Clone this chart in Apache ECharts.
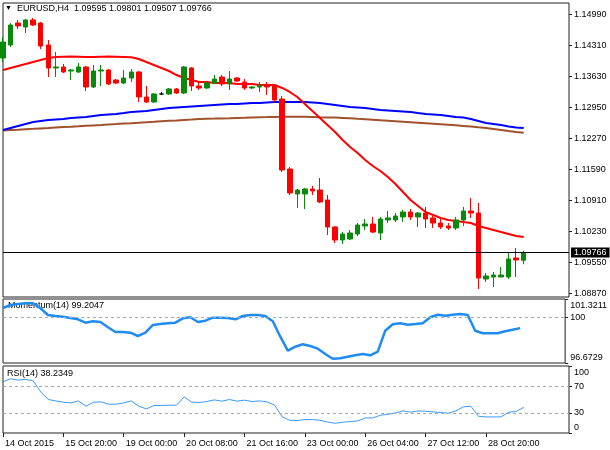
<!DOCTYPE html>
<html>
<head>
<meta charset="utf-8">
<title>EURUSD H4</title>
<script src="https://cdn.jsdelivr.net/npm/echarts@6/dist/echarts.min.js"></script>
<style>
  html, body { margin: 0; padding: 0; background: #fff; }
  #chart { width: 610px; height: 450px; }
</style>
</head>
<body>
<div id="chart"></div>
<script>
const symbolName = 'EURUSD,H4';

// one label every 8 bars
const tickLabels = ['14 Oct 2015', '15 Oct 20:00', '19 Oct 00:00', '20 Oct 08:00', '21 Oct 16:00',
  '23 Oct 00:00', '26 Oct 04:00', '27 Oct 12:00', '28 Oct 20:00'];

// H4 bars: [open, close, low, high]
const candles = [
  [1.14039, 1.14390, 1.13951, 1.14500], [1.14324, 1.14764, 1.14280, 1.14808],
  [1.14808, 1.14742, 1.14676, 1.14874], [1.14720, 1.14874, 1.14588, 1.14896],
  [1.14874, 1.14764, 1.14742, 1.14918], [1.14808, 1.14302, 1.14236, 1.14830],
  [1.14324, 1.13819, 1.13621, 1.14434], [1.13819, 1.13841, 1.13621, 1.14171],
  [1.13841, 1.13731, 1.13709, 1.13907], [1.13753, 1.13775, 1.13555, 1.13797],
  [1.13731, 1.13841, 1.13709, 1.13929], [1.13841, 1.13402, 1.13314, 1.13863],
  [1.13402, 1.13753, 1.13380, 1.13885], [1.13753, 1.13775, 1.13424, 1.13885],
  [1.13775, 1.13468, 1.13446, 1.13797], [1.13555, 1.13489, 1.13468, 1.13577],
  [1.13489, 1.13599, 1.13468, 1.13775], [1.13599, 1.13731, 1.13511, 1.13797],
  [1.13731, 1.13182, 1.13072, 1.13753], [1.13182, 1.13072, 1.13050, 1.13424],
  [1.13072, 1.13248, 1.13050, 1.13270], [1.13248, 1.13248, 1.13226, 1.13292],
  [1.13248, 1.13358, 1.13226, 1.13380], [1.13358, 1.13270, 1.13248, 1.13380],
  [1.13270, 1.13841, 1.13248, 1.13863], [1.13819, 1.13424, 1.13314, 1.13841],
  [1.13424, 1.13380, 1.13336, 1.13511], [1.13380, 1.13489, 1.13358, 1.13511],
  [1.13489, 1.13577, 1.13468, 1.13665], [1.13621, 1.13468, 1.13424, 1.13665],
  [1.13468, 1.13577, 1.13336, 1.13753], [1.13599, 1.13533, 1.13511, 1.13621],
  [1.13511, 1.13380, 1.13336, 1.13577], [1.13380, 1.13402, 1.13358, 1.13424],
  [1.13402, 1.13446, 1.13292, 1.13511], [1.13446, 1.13402, 1.13226, 1.13511],
  [1.13424, 1.13116, 1.13072, 1.13468], [1.13138, 1.11578, 1.11534, 1.13204],
  [1.11600, 1.11073, 1.11029, 1.11644], [1.11051, 1.11139, 1.10743, 1.11161],
  [1.11051, 1.11161, 1.10721, 1.11183], [1.11161, 1.11117, 1.11029, 1.11227],
  [1.11139, 1.10875, 1.10853, 1.11402], [1.10919, 1.10326, 1.10150, 1.11029],
  [1.10326, 1.10040, 1.09974, 1.10348], [1.10040, 1.10172, 1.09952, 1.10216],
  [1.10062, 1.10194, 1.10040, 1.10260], [1.10172, 1.10370, 1.10128, 1.10414],
  [1.10348, 1.10392, 1.10260, 1.10502], [1.10392, 1.10216, 1.10194, 1.10546],
  [1.10194, 1.10502, 1.10040, 1.10546], [1.10480, 1.10524, 1.10414, 1.10677],
  [1.10480, 1.10567, 1.10436, 1.10633], [1.10546, 1.10655, 1.10436, 1.10699],
  [1.10655, 1.10546, 1.10480, 1.10721], [1.10546, 1.10633, 1.10326, 1.10655],
  [1.10633, 1.10502, 1.10304, 1.10765], [1.10524, 1.10414, 1.10304, 1.10567],
  [1.10414, 1.10326, 1.10282, 1.10502], [1.10348, 1.10304, 1.10260, 1.10414],
  [1.10304, 1.10480, 1.10260, 1.10546], [1.10480, 1.10677, 1.10348, 1.10765],
  [1.10677, 1.10633, 1.10524, 1.10963], [1.10633, 1.09205, 1.08964, 1.10853],
  [1.09183, 1.09249, 1.09117, 1.09315], [1.09227, 1.09271, 1.09008, 1.09337],
  [1.09227, 1.09271, 1.09227, 1.09447], [1.09227, 1.09623, 1.09183, 1.09755],
  [1.09645, 1.09601, 1.09227, 1.09864], [1.09595, 1.09766, 1.09507, 1.09801]
];

// moving averages (red / blue / brown)
const maRed = [
  1.13775, 1.13819, 1.13863, 1.13907, 1.13951, 1.13995, 1.14039, 1.14061, 1.14068, 1.14072,
  1.14068, 1.14063, 1.14061, 1.14066, 1.14070, 1.14066, 1.14061, 1.14056, 1.14017, 1.13951,
  1.13885, 1.13819, 1.13753, 1.13665, 1.13599, 1.13555, 1.13511, 1.13511, 1.13489, 1.13489,
  1.13489, 1.13468, 1.13468, 1.13468, 1.13446, 1.13446, 1.13446, 1.13380, 1.13292, 1.13182,
  1.13028, 1.12874, 1.12721, 1.12567, 1.12413, 1.12237, 1.12083, 1.11952, 1.11798, 1.11666,
  1.11556, 1.11424, 1.11271, 1.11095, 1.10919, 1.10787, 1.10655, 1.10589, 1.10524, 1.10480,
  1.10458, 1.10436, 1.10414, 1.10348, 1.10304, 1.10260, 1.10216, 1.10172, 1.10128, 1.10106
];
const maBlue = [
  1.12457, 1.12501, 1.12545, 1.12589, 1.12633, 1.12655, 1.12677, 1.12688, 1.12699, 1.12721,
  1.12732, 1.12743, 1.12765, 1.12787, 1.12798, 1.12809, 1.12830, 1.12852, 1.12863, 1.12874,
  1.12896, 1.12918, 1.12940, 1.12951, 1.12962, 1.12973, 1.12984, 1.12995, 1.13006, 1.13017,
  1.13028, 1.13028, 1.13039, 1.13050, 1.13050, 1.13061, 1.13072, 1.13072, 1.13072, 1.13072,
  1.13072, 1.13061, 1.13050, 1.13028, 1.13006, 1.12984, 1.12962, 1.12951, 1.12940, 1.12918,
  1.12896, 1.12885, 1.12874, 1.12863, 1.12852, 1.12830, 1.12809, 1.12798, 1.12787, 1.12765,
  1.12743, 1.12732, 1.12699, 1.12655, 1.12611, 1.12589, 1.12567, 1.12534, 1.12512, 1.12501
];
const maBrown = [
  1.12446, 1.12457, 1.12464, 1.12475, 1.12483, 1.12492, 1.12501, 1.12512, 1.12521, 1.12529,
  1.12538, 1.12549, 1.12558, 1.12567, 1.12578, 1.12587, 1.12597, 1.12606, 1.12617, 1.12628,
  1.12637, 1.12648, 1.12659, 1.12668, 1.12679, 1.12688, 1.12699, 1.12703, 1.12707, 1.12712,
  1.12716, 1.12723, 1.12727, 1.12732, 1.12736, 1.12740, 1.12745, 1.12749, 1.12749, 1.12749,
  1.12749, 1.12745, 1.12738, 1.12734, 1.12729, 1.12723, 1.12714, 1.12703, 1.12694, 1.12683,
  1.12672, 1.12661, 1.12650, 1.12639, 1.12628, 1.12617, 1.12606, 1.12595, 1.12584, 1.12573,
  1.12562, 1.12547, 1.12532, 1.12516, 1.12501, 1.12479, 1.12457, 1.12435, 1.12415, 1.12398
];

const momentum = [
  100.667, 100.885, 100.958, 101.009, 101.009, 100.646, 100.159, 100.086, 100.036, 99.941,
  99.847, 99.600, 99.702, 99.651, 99.266, 98.924, 98.924, 98.874, 98.634, 98.874,
  99.433, 99.505, 99.556, 99.600, 99.919, 99.992, 99.651, 99.745, 99.963, 99.963,
  99.941, 99.847, 100.086, 100.159, 100.159, 100.086, 99.702, 98.583, 97.566, 97.857,
  98.031, 97.908, 97.712, 97.327, 96.985, 97.015, 97.131, 97.232, 97.327, 97.232,
  97.494, 99.019, 99.484, 99.556, 99.455, 99.505, 99.556, 99.992, 100.181, 100.108,
  100.181, 100.232, 100.159, 99.019, 98.830, 98.830, 98.830, 98.975, 99.092, 99.2047
];
const rsi = [
  76.4, 80.9, 79.0, 80.0, 77.9, 61.4, 50.0, 47.9, 46.0, 44.9,
  47.9, 40.0, 46.0, 46.4, 43.0, 43.0, 44.9, 47.9, 40.0, 36.0,
  41.0, 41.0, 41.5, 41.5, 53.9, 46.0, 45.5, 47.0, 49.4, 47.5,
  50.0, 47.5, 49.0, 47.0, 47.9, 46.4, 41.5, 24.0, 19.0, 18.6,
  20.1, 20.1, 19.0, 16.5, 14.5, 16.0, 17.1, 18.0, 22.5, 22.5,
  26.5, 28.0, 30.0, 33.0, 31.0, 33.0, 32.5, 31.5, 30.6, 29.5,
  33.0, 39.0, 40.0, 25.0, 24.0, 24.0, 24.0, 31.0, 32.1, 38.2349
];

const priceTicks = [1.1499, 1.1431, 1.1363, 1.1295, 1.1227, 1.1159, 1.1091, 1.1023, 1.0955, 1.0887];
const momentumTicks = [101.3211, 100, 96.6729];
const rsiTicks = [100, 70, 30, 0];
const rsiLevels = [70, 30];
const shiftBars = 6; // empty space on the right of the last bar

const FONT = 'Liberation Sans, Arial, sans-serif';
const GREEN = '#0a8a0a';
const RED = '#ff0000';
const IND_BLUE = '#1e8cf0';

const chart = echarts.init(document.getElementById('chart'));

const barCount = candles.length + shiftBars;
const categories = Array.from({ length: barCount }, (_, i) => String(i));
const last = candles[candles.length - 1];
const showTick = idx => idx % 8 === 0 && idx / 8 < tickLabels.length;

const grids = [
  { left: 3, top: 3, width: 566, height: 294 },
  { left: 3, top: 299, width: 566, height: 64 },
  { left: 3, top: 366, width: 566, height: 67 }
].map(g => Object.assign(g, { show: true, borderColor: '#222', borderWidth: 1, backgroundColor: '#fff' }));

function xAxisFor(gridIndex, withLabels) {
  return {
    type: 'category',
    gridIndex,
    data: categories,
    boundaryGap: false,
    axisLine: { show: false },
    splitLine: { show: false },
    axisTick: withLabels
      ? { show: true, interval: showTick, length: 4, inside: false, lineStyle: { color: '#222' } }
      : { show: false },
    axisLabel: withLabels
      ? {
          show: true,
          interval: showTick,
          align: 'left',
          margin: 6,
          padding: [0, 0, 0, 2],
          fontFamily: FONT,
          fontSize: 9,
          color: '#000',
          formatter: (v, idx) => tickLabels[idx / 8] || ''
        }
      : { show: false }
  };
}

// shift first/last indicator labels inside the panel, as the terminal does
function edgeLabel(text, where) {
  if (where === 'top') return '{dn|' + text + '}';
  if (where === 'bottom') return '{up|' + text + '}';
  return text;
}
const edgeRich = {
  dn: { padding: [13, 0, 0, 0], fontSize: 9, fontFamily: FONT, color: '#000' },
  up: { padding: [0, 0, 11, 0], fontSize: 9, fontFamily: FONT, color: '#000' }
};

function yAxisFor(gridIndex, min, max, ticks, fmt) {
  return {
    type: 'value',
    gridIndex,
    position: 'right',
    min,
    max,
    splitLine: { show: false },
    axisLine: { show: false },
    axisTick: { show: true, customValues: ticks, length: 3, inside: false, lineStyle: { color: '#222' } },
    axisLabel: {
      show: true,
      customValues: ticks,
      margin: 5,
      fontFamily: FONT,
      fontSize: 9,
      color: '#000',
      formatter: fmt,
      rich: edgeRich
    }
  };
}

const dashed = { color: '#a8a8a8', width: 1, type: [3, 3] };

chart.setOption({
  animation: false,
  backgroundColor: '#fff',
  grid: grids,
  xAxis: [xAxisFor(0, false), xAxisFor(1, false), xAxisFor(2, true)],
  yAxis: [
    yAxisFor(0, 1.08788, 1.15247, priceTicks, v => v.toFixed(5)),
    yAxisFor(1, 96.6729, 101.3211, momentumTicks, v => {
      if (v === 100) return '100';
      return edgeLabel(v.toFixed(4), v === momentumTicks[0] ? 'top' : 'bottom');
    }),
    yAxisFor(2, 0, 100, rsiTicks, v => {
      if (v === 100) return edgeLabel('100', 'top');
      if (v === 0) return edgeLabel('0', 'bottom');
      return String(v);
    })
  ],
  graphic: [
    { type: 'text', left: 5, top: 5, style: { text: '▼', font: '7px ' + FONT, fill: '#000' } },
    {
      type: 'text', left: 17, top: 4,
      style: {
        text: symbolName + '  ' + [last[0], last[3], last[2], last[1]].map(v => v.toFixed(5)).join(' '),
        font: '9px ' + FONT, fill: '#000'
      }
    },
    {
      type: 'text', left: 8, top: 301,
      style: { text: 'Momentum(14) ' + momentum[momentum.length - 1].toFixed(4), font: '9px ' + FONT, fill: '#000' }
    },
    {
      type: 'text', left: 7, top: 369,
      style: { text: 'RSI(14) ' + rsi[rsi.length - 1].toFixed(4), font: '9px ' + FONT, fill: '#000' }
    }
  ],
  series: [
    {
      type: 'line', xAxisIndex: 0, yAxisIndex: 0, data: maBrown, symbol: 'none', z: 2,
      lineStyle: { color: '#a0522d', width: 2 }
    },
    {
      type: 'line', xAxisIndex: 0, yAxisIndex: 0, data: maBlue, symbol: 'none', z: 2,
      lineStyle: { color: '#0000ff', width: 2 }
    },
    {
      type: 'line', xAxisIndex: 0, yAxisIndex: 0, data: maRed, symbol: 'none', z: 2,
      lineStyle: { color: RED, width: 2 }
    },
    {
      type: 'candlestick', xAxisIndex: 0, yAxisIndex: 0, data: candles, z: 3,
      barWidth: 5,
      itemStyle: {
        color: GREEN, color0: RED,
        borderColor: GREEN, borderColor0: RED, borderColorDoji: '#000',
        borderWidth: 1
      },
      markLine: {
        silent: true,
        precision: 5,
        symbol: ['none', 'none'],
        data: [{ yAxis: last[1] }],
        lineStyle: { color: '#000', width: 1, type: 'solid' },
        label: {
          position: 'end',
          distance: 2,
          formatter: p => Number(p.value).toFixed(5),
          backgroundColor: '#000',
          color: '#fff',
          padding: [1, 3, 0, 3],
          fontFamily: FONT,
          fontSize: 9
        }
      }
    },
    {
      type: 'line', xAxisIndex: 1, yAxisIndex: 1, data: momentum, symbol: 'none',
      lineStyle: { color: IND_BLUE, width: 2.5 },
      markLine: {
        silent: true, symbol: ['none', 'none'], label: { show: false },
        data: [{ yAxis: 100 }], lineStyle: dashed
      }
    },
    {
      type: 'line', xAxisIndex: 2, yAxisIndex: 2, data: rsi, symbol: 'none',
      lineStyle: { color: '#3a9af5', width: 1 },
      markLine: {
        silent: true, symbol: ['none', 'none'], label: { show: false },
        data: rsiLevels.map(v => ({ yAxis: v })), lineStyle: dashed
      }
    }
  ]
});
</script>
</body>
</html>
